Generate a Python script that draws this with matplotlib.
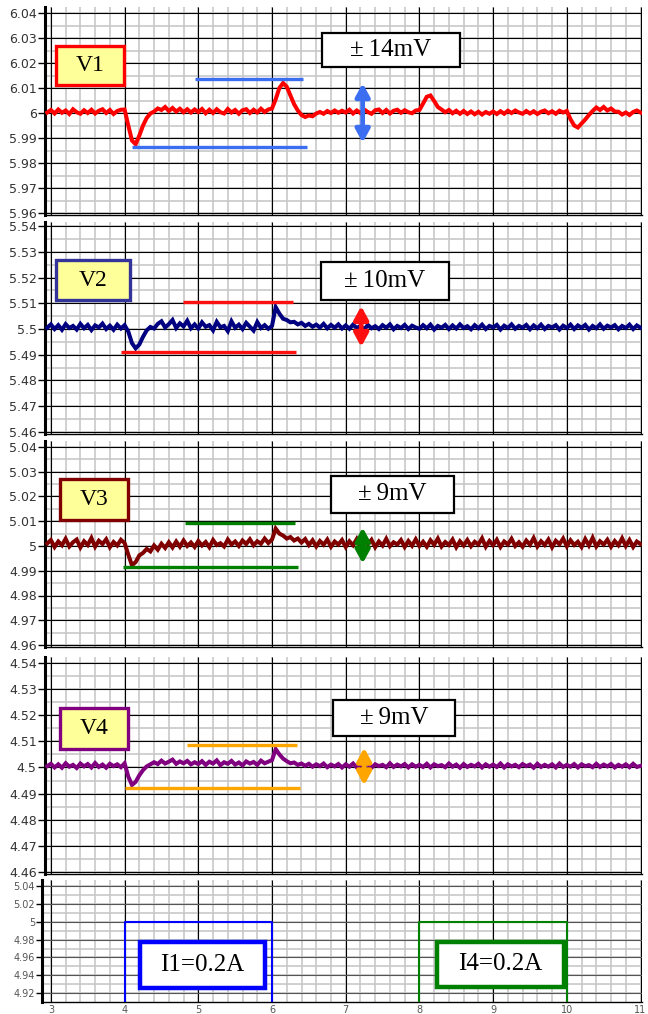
import numpy as np
import matplotlib
matplotlib.use("Agg")
import matplotlib.pyplot as plt
from matplotlib.patches import Rectangle
from matplotlib.ticker import MultipleLocator, FuncFormatter

W, H = 648, 1014

# sample times (s) for the recorded traces
t = np.round(np.arange(2.95, 11.001, 0.05), 2)

# traces as offsets in mV from their nominal level
v1_nom = 6.0
v1_mv = ([0.2]
         + [1.2, -0.2, 1.4, 0.1, 1.0, -0.4, 1.5, 0.3, -0.3, 1.1, 0.0, 1.3, -0.2, 0.9, 1.5, 0.0, 1.2, -0.4, 0.8, 1.3]
         + [1.4, -5.0, -11.0, -12.5, -9.0, -5.0, -2.0, -0.2, 0.6, 1.8, 1.2, 2.4, 0.8, 2.0, 0.6, 1.7, 0.3, 1.5, 0.2, 1.4]
         + [0.4, 1.6, -0.1, 1.3, 0.0, 1.5, 0.3, -0.2, 1.6, 0.2, 1.2, -0.3, 1.1, 1.5, 0.0, 1.3, 0.2, 1.7, 0.4, 1.4]
         + [1.8, 5.5, 10.0, 12.0, 10.5, 7.0, 3.5, 1.0, -0.8, -1.6, -1.0, -1.3, -0.2, 0.4, -0.3, 0.8, 0.0, 1.0, 0.1, 0.9]
         + [0.2, 1.3, -0.2, 1.0, 0.0, 1.4, 0.4, -0.3, 1.1, 1.4, 0.0, 1.2, -0.2, 0.9, 1.3, 0.1, 1.1, 0.3, -0.1, 1.0]
         + [1.2, 3.8, 6.5, 7.0, 4.8, 2.4, 1.4, 0.3, 1.2, -0.1, 0.9, -0.3, 0.8, -0.4, 0.6, -0.5, 0.5, -0.6, 0.4, -0.3]
         + [0.6, -0.4, 0.7, -0.3, 0.9, 0.0, 1.0, 0.2, -0.3, 0.8, -0.2, 0.7, -0.4, 0.5, 1.0, -0.1, 0.7, -0.3, 0.9, 0.2]
         + [0.8, -2.5, -5.0, -5.8, -4.2, -2.6, -0.8, 0.8, 2.2, 1.2, 2.4, 1.0, 1.8, 0.6, 0.5, -0.6, 0.2, -0.8, 0.4, 1.0]
         + [0.2])

v2_nom = 5.5
v2_mv = ([0.5]
         + [1.8, 0.0, 1.5, -0.3, 1.9, 0.4, 1.2, -0.2, 2.0, 0.3, 1.6, -0.4, 1.4, 0.6, 2.1, 0.0, 1.3, -0.3, 1.7, 0.2]
         + [1.5, -1.0, -5.5, -7.5, -6.0, -3.0, -0.5, 0.8, 0.2, 2.0, 3.0, 0.6, 1.9, 3.5, 0.4, 2.2, 1.0, 3.2, 0.3, 1.8]
         + [0.2, 2.6, 0.9, 1.5, -0.5, 2.8, 0.7, 1.2, -0.8, 3.0, 0.5, 1.7, 0.0, 2.4, 0.9, -0.6, 2.7, 0.4, 1.5, 0.1]
         + [1.2, 8.5, 6.0, 4.0, 3.5, 2.6, 2.8, 1.8, 2.4, 1.2, 2.0, 0.9, 1.7, 0.6, 2.0, 0.3, 1.6, 0.5, 1.8, 0.2]
         + [1.4, 0.1, 1.7, 0.4, 1.2, -0.2, 1.6, 0.3, 1.1, 0.0, 1.5, 0.5, 1.8, -0.1, 1.2, 0.4, 1.6, 0.0, 1.3, 0.6]
         + [0.1, 1.5, 0.3, 1.7, -0.2, 1.2, 0.5, 1.6, 0.0, 1.4, 0.2, 1.8, 0.4, 1.1, -0.1, 1.5, 0.3, 1.7, 0.0, 1.2]
         + [0.6, 1.6, -0.2, 1.3, 0.4, 1.8, 0.1, 1.2, 0.5, 1.6, -0.1, 1.4, 0.3, 1.7, 0.0, 1.2, 0.6, 1.5, -0.2, 1.3]
         + [0.4, 1.7, 0.0, 1.4, 0.5, 1.6, -0.2, 1.2, 0.3, 1.8, 0.1, 1.3, 0.6, 1.5, -0.1, 1.2, 0.4, 1.7, 0.0, 1.4]
         + [0.5])

v3_nom = 5.0
v3_mv = ([1.0]
         + [2.4, -0.4, 1.8, 0.3, 2.9, -0.2, 1.5, 2.6, -0.6, 1.9, 0.4, 3.2, -0.3, 2.1, 0.8, 2.7, -0.5, 1.6, 0.2, 2.5]
         + [1.2, -3.5, -7.8, -6.5, -3.8, -2.8, -1.2, -2.2, 0.2, -1.5, 0.9, -0.8, 1.5, -0.6, 1.8, -0.3, 2.2, 0.0, 1.4, -0.4]
         + [2.0, 0.2, 1.6, -0.5, 2.4, 0.4, 1.1, -0.2, 2.6, 0.6, 1.8, 0.0, 2.2, 0.8, 2.7, 0.3, 1.9, 0.9, 3.0, 1.2]
         + [2.6, 7.0, 5.0, 4.2, 3.0, 3.6, 2.2, 3.0, 1.4, 2.8, 0.4, 2.3, -0.2, 2.0, 0.5, 2.6, -0.3, 1.8, 0.6, 2.4]
         + [-0.4, 1.9, 0.3, 2.8, -0.2, 1.6, 0.7, 2.5, -0.5, 1.8, 0.2, 2.9, -0.1, 1.5, 0.6, 2.4, -0.4, 2.0, 0.1, 2.7]
         + [0.0, 1.7, -0.3, 2.3, 0.5, 3.0, -0.2, 1.6, 0.4, 2.6, -0.5, 1.9, 0.2, 2.4, -0.1, 1.7, 0.6, 3.1, -0.3, 2.0]
         + [0.3, 2.5, -0.4, 1.8, 0.6, 2.9, 0.0, 1.5, -0.3, 2.2, 0.5, 3.2, -0.2, 1.9, 0.4, 2.6, -0.5, 2.1, 0.7, 3.0]
         + [-0.1, 2.3, 0.4, 1.7, -0.4, 2.8, 0.2, 3.3, -0.2, 1.9, 0.6, 2.5, -0.3, 2.0, 0.3, 3.1, 0.0, 2.4, -0.4, 1.8]
         + [0.8])

v4_nom = 4.5
v4_mv = ([0.5]
         + [1.4, 0.0, 1.2, -0.1, 1.6, 0.3, 1.0, -0.2, 1.5, 0.4, 1.3, 0.0, 1.7, 0.2, 1.1, -0.1, 1.4, 0.5, 1.2, 0.1]
         + [1.6, -3.5, -6.7, -5.5, -3.0, -1.0, 0.4, 1.2, 2.0, 1.3, 2.6, 1.5, 2.2, 3.0, 1.4, 2.3, 1.6, 2.5, 1.2, 2.0]
         + [1.3, 2.4, 1.0, 2.2, 1.5, 2.7, 0.9, 2.0, 1.4, 2.5, 1.1, 1.9, 0.8, 2.3, 1.5, 2.1, 1.0, 2.6, 1.6, 2.2]
         + [2.8, 7.0, 5.0, 3.4, 2.4, 1.6, 1.9, 1.0, 1.5, 0.6, 1.4, 0.3, 1.2, 0.5, 1.5, 0.1, 1.1, 0.4, 1.3, 0.0]
         + [1.2, 0.3, 1.5, 0.0, 1.1, 0.4, 1.4, -0.1, 1.2, 0.5, 1.0, 0.1, 1.6, 0.2, 1.1, 0.4, 1.3, 0.0, 1.2, 0.3]
         + [1.0, 0.2, 1.4, 0.0, 1.2, 0.5, 0.9, 0.1, 1.5, 0.3, 1.1, -0.1, 1.3, 0.2, 1.0, 0.4, 1.4, 0.0, 1.2, 0.3]
         + [1.1, 0.2, 1.5, 0.0, 1.2, 0.4, 1.0, 0.1, 1.3, 0.5, 1.1, -0.1, 1.4, 0.2, 1.0, 0.3, 1.2, 0.0, 1.5, 0.2]
         + [1.0, 0.3, 1.3, 0.0, 1.2, 0.5, 0.9, 0.1, 1.4, 0.2, 1.1, 0.4, 1.3, 0.0, 1.0, 0.3, 1.2, 0.1, 1.4, 0.2]
         + [0.6])

# load current steps (bottom panel, scale of the scope channel)
i1_t = [2.9, 4.0, 4.0, 6.0, 6.0, 11.1]
i1_v = [4.90, 4.90, 5.00, 5.00, 4.90, 4.90]
i4_t = [2.9, 8.0, 8.0, 10.0, 10.0, 11.1]
i4_v = [4.90, 4.90, 5.00, 5.00, 4.90, 4.90]

# tolerance bands and their spans
band_hi = [6.0136, 5.5107, 5.0093, 4.5086]
band_hi_span = [(4.95, 6.42), (4.79, 6.28), (4.82, 6.31), (4.85, 6.34)]
band_lo = [5.9864, 5.4909, 4.9914, 4.4921]
band_lo_span = [(4.10, 6.47), (3.95, 6.32), (3.98, 6.35), (4.00, 6.38)]
arrow_x = [7.23, 7.21, 7.23, 7.25]
arrow_top = [6.013, 5.510, 5.0086, 4.5086]
arrow_bot = [5.987, 5.492, 4.9918, 4.4921]

names = ["V1", "V2", "V3", "V4"]
ripple = ["±\u200914mV", "±\u200910mV", "±\u20099mV", "±\u20099mV"]
currents = ["I1=0.2A", "I4=0.2A"]

trace_colors = ["#ff0000", "#000080", "#800000", "#800080"]
band_colors = ["#3b6ef0", "#ff1010", "#008000", "#ffa500"]
name_edges = ["#ff0000", "#333399", "#800000", "#800080"]

# panel placement in pixels (left, top, right, bottom) and y limits
panel_px = [(45, 7, 642, 215), (45, 222, 642, 434), (45, 441, 642, 647), (45, 657, 642, 874)]
panel_ylim = [(5.9592, 6.0424), (5.4592, 5.5416), (4.9592, 5.0424), (4.4592, 4.5423)]
name_px = [(56, 46, 124, 85), (56, 260, 130, 300), (60, 479, 128, 520), (60, 708, 128, 749)]
ripple_px = [(322, 33, 460, 67), (321, 262, 449, 300), (331, 476, 454, 513), (333, 700, 455, 736)]

fig = plt.figure(figsize=(W / 100, H / 100), dpi=100)
serif = "Liberation Serif"


def px_rect(l, tp, r, b):
    return [l / W, 1 - b / H, (r - l) / W, (b - tp) / H]


def draw_grid(ax, xlim, ylim, xmaj, xmin, ymaj, ymin, majc="k"):
    xs_min = np.arange(np.ceil(xlim[0] / xmin) * xmin, xlim[1], xmin)
    ys_min = np.arange(np.ceil(ylim[0] / ymin) * ymin, ylim[1], ymin)
    ax.vlines(xs_min, 0, 1, transform=ax.get_xaxis_transform(), color="#c8c8c8", lw=1.2, zorder=0.5)
    ax.hlines(ys_min, 0, 1, transform=ax.get_yaxis_transform(), color="#c8c8c8", lw=1.2, zorder=0.5)
    xs = np.arange(np.ceil(xlim[0] / xmaj) * xmaj, xlim[1], xmaj)
    ys = np.arange(np.ceil(ylim[0] / ymaj - 1e-6) * ymaj, ylim[1], ymaj)
    ax.vlines(xs, 0, 1, transform=ax.get_xaxis_transform(), color="k", lw=0.8, zorder=0.6)
    ax.hlines(ys, 0, 1, transform=ax.get_yaxis_transform(), color=majc, lw=0.8, zorder=0.6)


def boxed(l, tp, r, b, text, edge, face, lw, size):
    fig.add_artist(Rectangle((l / W, 1 - b / H), (r - l) / W, (b - tp) / H, transform=fig.transFigure,
                             facecolor=face, edgecolor=edge, lw=lw, zorder=5))
    fig.text((l + r) / 2 / W, 1 - (tp + b) / 2 / H, text, ha="center", va="center",
             family=serif, fontsize=size, color="k", zorder=6)


fmt = FuncFormatter(lambda v, p: f"{round(v, 3):g}")
traces = [v1_mv, v2_mv, v3_mv, v4_mv]
noms = [v1_nom, v2_nom, v3_nom, v4_nom]

for k in range(4):
    ax = fig.add_axes(px_rect(*panel_px[k]))
    xlim = (2.92, 11.02)
    ax.set_xlim(*xlim)
    ax.set_ylim(*panel_ylim[k])
    draw_grid(ax, xlim, panel_ylim[k], 1.0, 0.2, 0.01, 0.005)
    y = noms[k] + np.array(traces[k]) / 1000.0
    ax.plot(t, y, color=trace_colors[k], lw=2.9, zorder=3, solid_joinstyle="miter")
    ax.hlines(band_hi[k], *band_hi_span[k], color=band_colors[k], lw=2.4, zorder=4)
    ax.hlines(band_lo[k], *band_lo_span[k], color=band_colors[k], lw=2.4, zorder=4)
    ax.annotate("", xy=(arrow_x[k], arrow_top[k]), xytext=(arrow_x[k], arrow_bot[k]),
                arrowprops=dict(arrowstyle="<|-|>,head_length=0.55,head_width=0.3",
                                color=band_colors[k], lw=3.4, mutation_scale=14,
                                shrinkA=2, shrinkB=2), zorder=4)
    ax.yaxis.set_major_locator(MultipleLocator(0.01))
    ax.yaxis.set_major_formatter(fmt)
    ax.set_xticks([])
    ax.tick_params(axis="y", which="major", direction="out", length=5, width=1,
                   labelsize=9, labelcolor="#333333", pad=1)
    for lab in ax.get_yticklabels():
        lab.set_family("DejaVu Sans")
    ax.spines["top"].set_visible(False)
    ax.spines["right"].set_visible(False)
    ax.spines["left"].set_linewidth(2.2)
    ax.spines["bottom"].set_linewidth(1.0)
    boxed(*name_px[k], names[k], name_edges[k], "#ffff99", 2.4, 17)
    boxed(*ripple_px[k], ripple[k], "k", "white", 1.6, 18)

# bottom panel: load current steps
ax = fig.add_axes(px_rect(42, 880, 642, 1002))
xlim5 = (2.878, 11.02)
ylim5 = (4.9101, 5.0467)
ax.set_xlim(*xlim5)
ax.set_ylim(*ylim5)
draw_grid(ax, xlim5, ylim5, 1.0, 0.2, 0.02, 0.01, majc="#555555")
ax.plot(i1_t, i1_v, color="#0000ff", lw=1.5, zorder=3)
ax.plot(i4_t, i4_v, color="#008000", lw=1.5, zorder=3)
ax.yaxis.set_major_locator(MultipleLocator(0.02))
ax.yaxis.set_major_formatter(fmt)
ax.xaxis.set_major_locator(MultipleLocator(1))
ax.xaxis.set_major_formatter(fmt)
ax.tick_params(axis="y", direction="out", length=4, width=1, labelsize=7, labelcolor="#555555", pad=1)
ax.tick_params(axis="x", direction="out", length=0, labelsize=7, labelcolor="#555555", pad=2)
ax.spines["top"].set_visible(False)
ax.spines["right"].set_visible(False)
ax.spines["left"].set_linewidth(2.2)
ax.spines["bottom"].set_linewidth(1.0)
boxed(140, 942, 265, 988, currents[0], "#0000ff", "white", 3.2, 18)
boxed(437, 942, 564, 987, currents[1], "#008000", "white", 3.2, 18)

fig.savefig("out.png", dpi=100)
